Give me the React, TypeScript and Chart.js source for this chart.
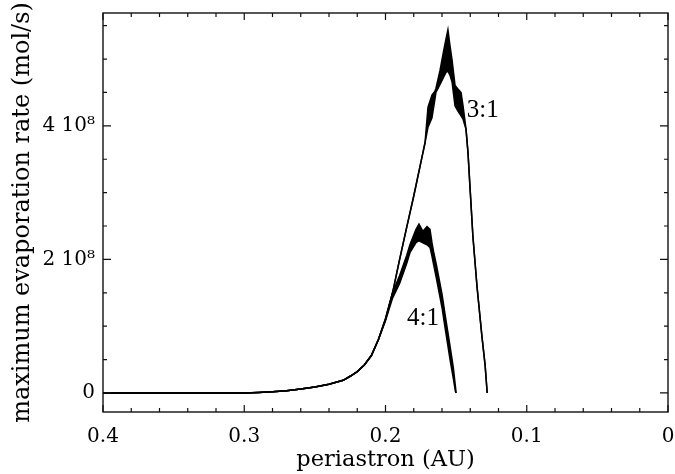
import React, { useEffect, useRef } from "react";
import { Chart, registerables } from "chart.js";

Chart.register(...registerables);

// x: periastron (AU); y: maximum evaporation rate, in units of 1e8 mol/s
const xAxisTicks = [0, 0.1, 0.2, 0.3, 0.4];
const xAxisTickLabels = ["0", "0.1", "0.2", "0.3", "0.4"];
const yAxisTicks = [0, 2, 4];
const yAxisTickLabels = ["0", "2 10⁸", "4 10⁸"];

// 3:1 resonance (upper / lower envelope of the oscillating curve)
const res31X = [
  0.4, 0.3, 0.29, 0.28, 0.27, 0.26, 0.25, 0.24, 0.235, 0.23,
  0.225, 0.22, 0.215, 0.21, 0.205, 0.2, 0.195, 0.19, 0.185, 0.18,
  0.175, 0.172, 0.1699, 0.1671, 0.165, 0.1643, 0.1614, 0.1586, 0.1572, 0.1558,
  0.1544, 0.1529, 0.1508, 0.1487, 0.1465, 0.1451, 0.143, 0.1416, 0.1402, 0.1381,
  0.1352, 0.1317, 0.1295, 0.128,
];
const res31Upper = [
  0, 0, 0.008, 0.02, 0.035, 0.06, 0.09, 0.13, 0.16, 0.19,
  0.25, 0.32, 0.42, 0.56, 0.8, 1.1, 1.5, 2.0, 2.48, 2.95,
  3.45, 3.75, 4.28, 4.46, 4.52, 4.56, 4.83, 5.15, 5.3, 5.44,
  5.21, 4.99, 4.61, 4.55, 4.5, 4.3, 3.95, 3.6, 3.09, 2.34,
  1.59, 0.84, 0.42, 0,
];
const res31Lower = [
  0, 0, 0.008, 0.02, 0.035, 0.06, 0.09, 0.13, 0.16, 0.19,
  0.25, 0.32, 0.42, 0.56, 0.8, 1.1, 1.5, 2.0, 2.48, 2.95,
  3.45, 3.75, 3.98, 4.12, 4.4, 4.5, 4.62, 4.74, 4.8, 4.82,
  4.76, 4.66, 4.3, 4.22, 4.15, 4.1, 3.95, 3.6, 3.09, 2.34,
  1.59, 0.84, 0.42, 0,
];

// 4:1 resonance
const res41X = [
  0.4, 0.3, 0.29, 0.28, 0.27, 0.26, 0.25, 0.24, 0.235, 0.23,
  0.225, 0.22, 0.215, 0.21, 0.205, 0.2, 0.195, 0.19, 0.185, 0.1827,
  0.1784, 0.1763, 0.1735, 0.1706, 0.1685, 0.1671, 0.166, 0.164, 0.162, 0.16,
  0.158, 0.156, 0.154, 0.152, 0.1505, 0.15,
];
const res41Upper = [
  0, 0, 0.008, 0.02, 0.035, 0.06, 0.09, 0.13, 0.16, 0.19,
  0.25, 0.32, 0.42, 0.56, 0.8, 1.12, 1.5, 1.76, 2.06, 2.22,
  2.45, 2.53, 2.42, 2.49, 2.45, 2.25, 2.12, 1.92, 1.7, 1.48,
  1.2, 0.93, 0.66, 0.38, 0.1, 0,
];
const res41Lower = [
  0, 0, 0.008, 0.02, 0.035, 0.06, 0.09, 0.13, 0.16, 0.19,
  0.25, 0.32, 0.42, 0.56, 0.8, 1.08, 1.42, 1.64, 1.94, 2.1,
  2.25, 2.28, 2.25, 2.22, 2.18, 2.05, 1.93, 1.72, 1.5, 1.28,
  1.0, 0.73, 0.46, 0.22, 0.02, 0,
];

const curveLabels = ["3:1", "4:1"];
const curveLabelX = [0.1312, 0.1735];
const curveLabelY = [4.23, 1.12];

const SERIF = "'DejaVu Serif', serif";

const framePlugin = {
  id: "frameTicks",
  afterDatasetsDraw(chart: any) {
    const { ctx, chartArea: a, scales } = chart;
    const xs = scales.x;
    const ys = scales.y;
    ctx.save();
    ctx.strokeStyle = "#111";
    ctx.lineWidth = 1.4;
    ctx.strokeRect(a.left, a.top, a.right - a.left, a.bottom - a.top);
    ctx.lineWidth = 1.2;
    ctx.beginPath();
    for (let i = 0; i <= 20; i++) {
      const v = i * 0.02;
      const len = i % 5 === 0 ? 7 : 4;
      const px = xs.getPixelForValue(v);
      ctx.moveTo(px, a.bottom);
      ctx.lineTo(px, a.bottom - len);
      ctx.moveTo(px, a.top);
      ctx.lineTo(px, a.top + len);
    }
    for (let i = 0; i <= 11; i++) {
      const v = i * 0.5;
      const len = i % 4 === 0 ? 8 : 4;
      const py = ys.getPixelForValue(v);
      ctx.moveTo(a.left, py);
      ctx.lineTo(a.left + len, py);
      ctx.moveTo(a.right, py);
      ctx.lineTo(a.right - len, py);
    }
    ctx.stroke();
    ctx.fillStyle = "#000";
    ctx.font = "25px 'Liberation Serif', serif";
    ctx.textAlign = "center";
    ctx.textBaseline = "middle";
    for (let i = 0; i < curveLabels.length; i++) {
      ctx.fillText(
        curveLabels[i],
        xs.getPixelForValue(curveLabelX[i]),
        ys.getPixelForValue(curveLabelY[i])
      );
    }
    ctx.restore();
  },
};

function envelope(xv: number[], yv: number[]) {
  return xv.map((x, i) => ({ x, y: yv[i] }));
}

export default function App() {
  const ref = useRef<HTMLCanvasElement | null>(null);
  useEffect(() => {
    if (!ref.current) return;
    const line = {
      borderColor: "#000",
      backgroundColor: "#000",
      borderWidth: 1.5,
      pointRadius: 0,
      tension: 0,
    };
    const chart = new Chart(ref.current, {
      type: "line",
      data: {
        datasets: [
          { ...line, data: envelope(res31X, res31Upper), fill: false },
          { ...line, data: envelope(res31X, res31Lower), fill: "-1" },
          { ...line, data: envelope(res41X, res41Upper), fill: false },
          { ...line, data: envelope(res41X, res41Lower), fill: "-1" },
        ],
      },
      options: {
        animation: false,
        responsive: false,
        layout: { padding: { top: 13, right: 7, left: 0, bottom: 0 } },
        plugins: { legend: { display: false }, tooltip: { enabled: false } },
        scales: {
          x: {
            type: "linear",
            min: 0,
            max: 0.4,
            reverse: true,
            grid: { display: false, drawTicks: false },
            border: { display: false },
            afterBuildTicks: (s: any) => {
              s.ticks = xAxisTicks.map((v) => ({ value: v }));
            },
            afterFit: (s: any) => {
              s.height = 62;
              s.paddingLeft = 0;
              s.paddingRight = 0;
            },
            ticks: {
              autoSkip: false,
              maxRotation: 0,
              padding: 13,
              color: "#000",
              font: { family: SERIF, size: 20 },
              callback: (v: any) => xAxisTickLabels[xAxisTicks.indexOf(Number(v))] ?? "",
            },
            title: {
              display: true,
              text: "periastron (AU)",
              color: "#000",
              font: { family: SERIF, size: 22.5 },
              padding: { top: 0, bottom: 0 },
            },
          },
          y: {
            type: "linear",
            min: -0.285,
            max: 5.69,
            grid: { display: false, drawTicks: false },
            border: { display: false },
            afterBuildTicks: (s: any) => {
              s.ticks = yAxisTicks.map((v) => ({ value: v }));
            },
            afterFit: (s: any) => {
              s.width = 103;
              s.paddingTop = 0;
              s.paddingBottom = 0;
            },
            ticks: {
              padding: 8,
              color: "#000",
              font: { family: SERIF, size: 20 },
              callback: (v: any) => yAxisTickLabels[yAxisTicks.indexOf(Number(v))] ?? "",
            },
            title: {
              display: true,
              text: "maximum evaporation rate (mol/s)",
              color: "#000",
              font: { family: SERIF, size: 24 },
              padding: { top: 8, bottom: 0 },
            },
          },
        },
      },
      plugins: [framePlugin],
    } as any);
    return () => chart.destroy();
  }, []);
  return (
    <div style={{ position: "fixed", left: 0, top: 0, width: 675, height: 474, background: "#fff" }}>
      <canvas ref={ref} width={675} height={474} style={{ display: "block" }} />
    </div>
  );
}
